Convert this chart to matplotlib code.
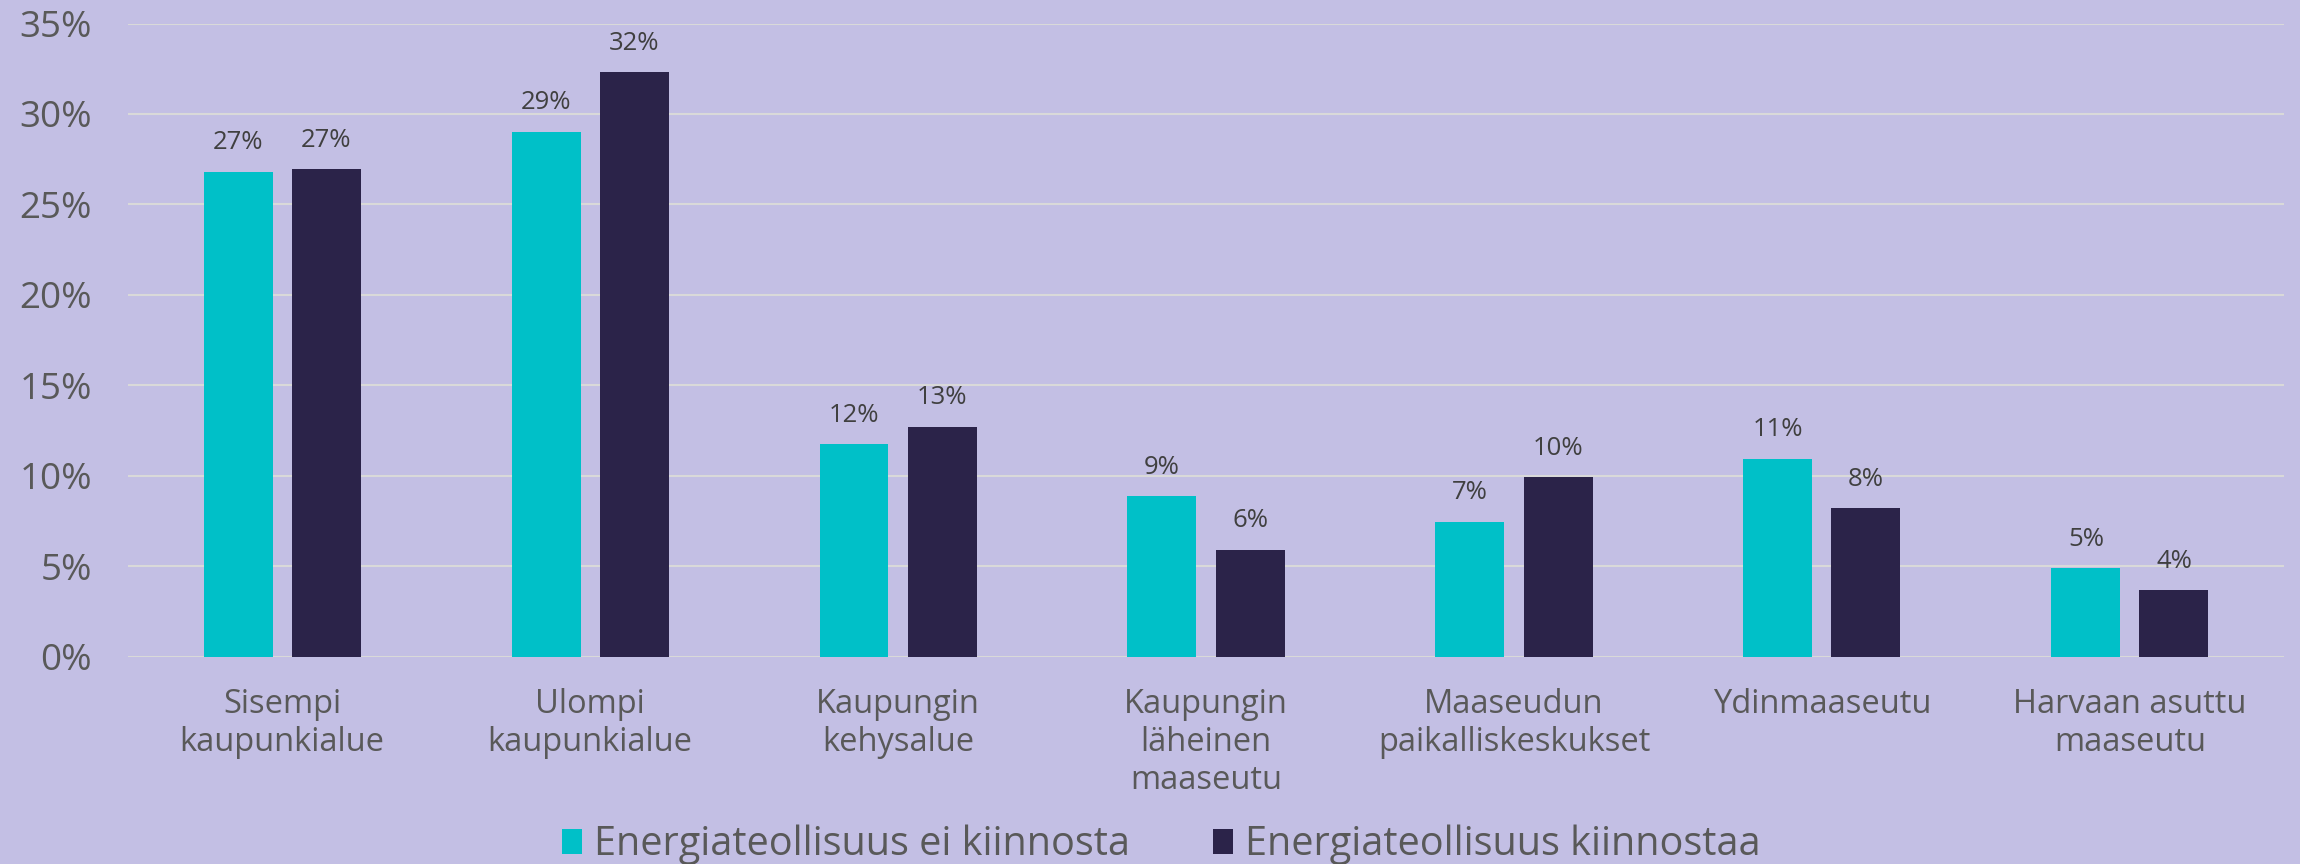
import matplotlib
matplotlib.use("Agg")
import matplotlib.pyplot as plt
import numpy as np

categories = ["Sisempi\nkaupunkialue", "Ulompi\nkaupunkialue", "Kaupungin\nkehysalue",
              "Kaupungin\nläheinen\nmaaseutu", "Maaseudun\npaikalliskeskukset",
              "Ydinmaaseutu", "Harvaan asuttu\nmaaseutu"]
ei_kiinnosta = [26.8, 29.0, 11.74, 8.87, 7.47, 10.93, 4.89]
kiinnostaa = [26.95, 32.3, 12.73, 5.93, 9.93, 8.22, 3.68]
series_names = ["Energiateollisuus ei kiinnosta", "Energiateollisuus kiinnostaa"]
yticks = [0, 5, 10, 15, 20, 25, 30, 35]

BG = "#c3bfe4"
TEAL = "#00c0c8"
NAVY = "#2b2349"
GRID = "#d9d9d9"
TXT = "#595959"
LBL = "#404040"

plt.rcParams['font.family'] = ['Open Sans', 'DejaVu Sans']

fig = plt.figure(figsize=(23, 8.64), dpi=100, facecolor=BG)
ax = fig.add_axes([0.0557, 0.2396, 0.9373, 0.7332])
ax.set_facecolor(BG)

x = np.arange(len(categories))
w = 0.224
off = 0.143
b1 = ax.bar(x - off, ei_kiinnosta, w, color=TEAL, zorder=3, label=series_names[0])
b2 = ax.bar(x + off, kiinnostaa, w, color=NAVY, zorder=3, label=series_names[1])

for bars, vals in ((b1, ei_kiinnosta), (b2, kiinnostaa)):
    ax.bar_label(bars, labels=[f"{round(v):d}%" for v in vals], padding=12,
                 fontsize=18.5, color=LBL)

ax.set_xlim(-0.5, len(categories) - 0.5)
ax.set_ylim(0, 35)
ax.set_yticks(yticks)
ax.set_yticklabels([f"{t}%" for t in yticks], fontsize=26.5, color=TXT)
ax.set_xticks(x)
ax.set_xticklabels(categories, fontsize=23.5, color=TXT, linespacing=1.2, va='top')
ax.tick_params(axis='y', length=0, pad=26)
ax.tick_params(axis='x', length=0, pad=22)
ax.grid(axis='y', color=GRID, linewidth=1.5, zorder=0)
ax.set_axisbelow(True)
for s in ax.spines.values():
    s.set_visible(False)

fig.legend(handles=[b1, b2], labels=series_names, loc='center',
           bbox_to_anchor=(0.505, 0.022), ncol=2, frameon=False,
           fontsize=28.5, labelcolor=TXT, handlelength=0.5, handleheight=0.6,
           handletextpad=0.3, columnspacing=2.1)

fig.savefig("out.png", dpi=100, facecolor=BG)
